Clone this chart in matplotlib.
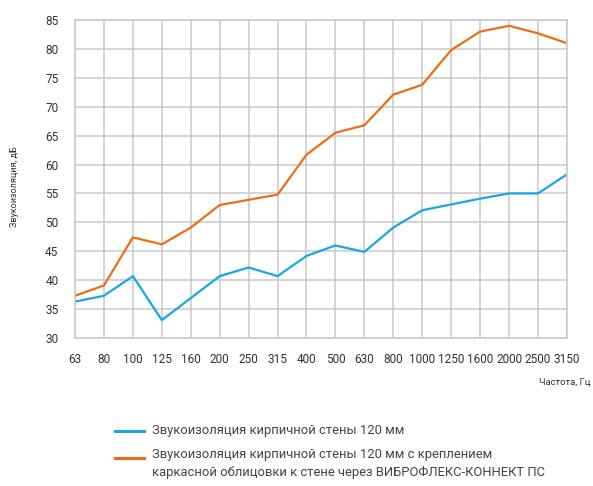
import matplotlib
matplotlib.use("Agg")
import matplotlib.pyplot as plt
from matplotlib.lines import Line2D

plt.rcParams["font.family"] = ["Roboto", "DejaVu Sans"]

freqs = ["63", "80", "100", "125", "160", "200", "250", "315", "400", "500",
         "630", "800", "1000", "1250", "1600", "2000", "2500", "3150"]
wall = [36.3, 37.3, 40.7, 33.1, 36.9, 40.7, 42.2, 40.7, 44.2, 46.0,
        44.9, 49.1, 52.1, 53.1, 54.1, 55.0, 55.0, 58.3]
wall_vibro = [37.3, 39.1, 47.4, 46.2, 49.1, 53.0, 53.9, 54.8, 61.7, 65.5,
              66.8, 72.1, 73.8, 79.8, 83.0, 84.0, 82.7, 81.0]
yticks = [30, 35, 40, 45, 50, 55, 60, 65, 70, 75, 80, 85]

label_wall = "Звукоизоляция кирпичной стены 120 мм"
label_vibro = ("Звукоизоляция кирпичной стены 120 мм с креплением\n"
               "каркасной облицовки к стене через ВИБРОФЛЕКС-КОННЕКТ ПС")

BLUE = "#1aa7df"
ORANGE = "#ef6c14"
GRID = "#c9c9c9"
TEXT = "#333333"

fig = plt.figure(figsize=(5.93, 4.86), dpi=100)
ax = fig.add_axes([0.1265, 0.3045, 0.8295, 0.6543])

x = list(range(len(freqs)))
ax.plot(x, wall, color=BLUE, lw=1.6)
ax.plot(x, wall_vibro, color=ORANGE, lw=1.6)

ax.set_xlim(0, len(freqs) - 1)
ax.set_ylim(30, 85)
ax.set_xticks(x)
ax.set_xticklabels(freqs)
ax.set_yticks(yticks)
ax.grid(True, color=GRID, lw=1.1)
ax.set_axisbelow(True)
for s in ax.spines.values():
    s.set_color(GRID)
    s.set_linewidth(1.1)
ax.tick_params(length=0, labelsize=8.5, labelcolor=TEXT)
ax.tick_params(axis="x", pad=11)
ax.tick_params(axis="y", pad=12)

fig.text(0.025, 0.615, "Звукоизоляция, дБ", rotation=90, fontsize=6.5,
         color=TEXT, ha="center", va="center")
fig.text(0.996, 0.214, "Частота, Гц", fontsize=6.8, color=TEXT,
         ha="right", va="center")

# legend, placed by hand
for yy, col in [(0.1132, BLUE), (0.0576, ORANGE)]:
    fig.add_artist(Line2D([0.194, 0.243], [yy, yy], color=col, lw=2.2,
                          transform=fig.transFigure))
fig.text(0.2563, 0.1132, label_wall, fontsize=9.4, color="#444444",
         ha="left", va="center")
fig.text(0.2563, 0.0576 + 0.0206, label_vibro, fontsize=9.4, color="#444444",
         ha="left", va="top", linespacing=1.45)

fig.savefig("out.png", dpi=100)
